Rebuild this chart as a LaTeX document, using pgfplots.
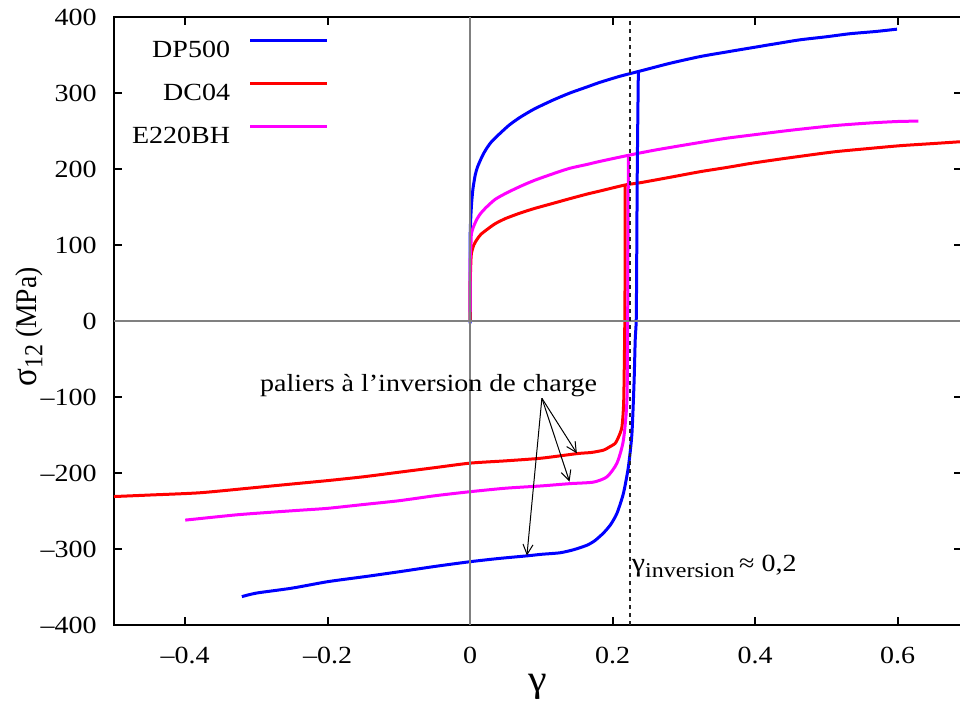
\documentclass[border=0pt]{standalone}
\usepackage{fontspec}
\setmainfont{Liberation Serif}
\usepackage{graphicx}
\usepackage{pgfplots}
\pgfplotsset{compat=1.18}
\usetikzlibrary{arrows.meta}

\definecolor{dpblue}{RGB}{0,0,255}
\definecolor{dcred}{RGB}{255,0,0}
\definecolor{ehmag}{RGB}{255,0,255}
\definecolor{zerogray}{RGB}{128,128,128}

% text set slightly flattened, as in the original gnuplot output
\newcommand{\sq}[1]{\scalebox{1}[0.88]{#1}}
\newcommand{\fs}{\fontsize{14}{16}\selectfont}

\begin{document}
\begin{tikzpicture}
\begin{axis}[
  scale only axis,
  width=423.9pt, height=304pt,
  xmin=-0.5, xmax=0.69,
  ymin=-400, ymax=400,
  xtick={-0.4,-0.2,0,0.2,0.4,0.6},
  xticklabels={\sq{–0.4},\sq{–0.2},\sq{0},\sq{0.2},\sq{0.4},\sq{0.6}},
  ytick={-400,-300,-200,-100,0,100,200,300,400},
  yticklabels={\sq{–400},\sq{–300},\sq{–200},\sq{–100},\sq{0},\sq{100},\sq{200},\sq{300},\sq{400}},
  tick align=inside,
  major tick length=4pt,
  every tick/.style={black, line width=0.9pt},
  axis line style={line width=1pt},
  tick label style={font=\fs},
  xticklabel style={anchor=north, inner sep=0pt, yshift=-11pt},
  yticklabel style={anchor=east, inner sep=0pt, xshift=-8.5pt},
  xlabel={\scalebox{1}[0.9]{\fontsize{21}{22}\selectfont γ}},
  every axis x label/.style={at={(axis description cs:0.5,0)}, anchor=center, yshift=-30.9pt},
  ylabel={\scalebox{0.92}[1]{{\fontsize{18}{18}\selectfont σ}\raisebox{-3pt}{\fontsize{13}{14}\selectfont 12}\fontsize{15}{16}\selectfont\ (MPa)}},
  every axis y label/.style={at={(axis description cs:-0.1,0.49)}, anchor=center, rotate=90},
  legend style={draw=none, fill=none, at={(rel axis cs:0.2528,0.967)}, anchor=north east,
    inner sep=0pt, outer sep=0pt, row sep=8.5pt, column sep=9.35pt, font=\fs,
    nodes={inner sep=0pt, text height=10pt, text depth=3pt}},
  legend plot pos=right,
  legend cell align=right,
  legend image code/.code={\draw[#1] (0pt,4.85pt) -- (38.3pt,4.85pt);},
  every axis plot/.append style={line width=1.5pt, smooth, tension=0.4},
]

% monotonic shear tests
\addplot[dpblue] coordinates {
(0,-3) (0,60) (0,115) (0.001,140) (0.0023,159) (0.004,175) (0.007,192) (0.01,202)
(0.014,211) (0.018,219) (0.023,227) (0.03,236) (0.042,247) (0.055,258) (0.07,268)
(0.09,279) (0.117,291) (0.14,300) (0.164,308) (0.182,314) (0.21,322) (0.239,329)
(0.28,339) (0.323,348) (0.36,354) (0.398,360) (0.43,365) (0.463,370) (0.5,374)
(0.533,378) (0.57,381) (0.599,384)};
\addlegendentry{\sq{DP500}}

\addplot[dcred] coordinates {
(0,0) (0,50) (0.001,80) (0.0017,89) (0.005,100) (0.01,108) (0.015,114) (0.023,120)
(0.035,128) (0.05,135) (0.07,142) (0.09,148) (0.117,155) (0.14,161) (0.164,167)
(0.182,171) (0.2175,179) (0.239,182) (0.28,189) (0.323,196.5) (0.36,202) (0.398,208)
(0.45,215) (0.51,222.5) (0.56,227) (0.604,230.7) (0.65,233.5) (0.69,236)};
\addlegendentry{\sq{DC04}}

\addplot[ehmag] coordinates {
(0,12) (0,80) (0.001,100) (0.0017,115) (0.005,125) (0.01,135) (0.015,142) (0.023,150)
(0.035,160) (0.05,168) (0.07,177) (0.09,185) (0.117,194) (0.14,201) (0.164,206)
(0.182,210) (0.222,218) (0.26,225) (0.323,235) (0.36,240.5) (0.398,245) (0.45,251)
(0.51,257) (0.56,260.5) (0.6,262.5) (0.629,263)};
\addlegendentry{\sq{E220BH}}

% reverse loading after the inversion
\addplot[dpblue, forget plot] coordinates {
(0.236,328) (0.2345,200) (0.2335,50) (0.233,0) (0.2316,-25) (0.230,-80) (0.227,-148)
(0.222,-192) (0.215,-227) (0.206,-253) (0.197,-268) (0.187,-279) (0.175,-289)
(0.164,-295) (0.145,-301) (0.126,-305) (0.1,-307) (0.08,-309) (0.04,-312.5)
(0,-316.7) (-0.05,-323) (-0.1,-330) (-0.145,-336) (-0.2,-343) (-0.25,-351.5)
(-0.3,-358) (-0.3205,-362.7)};

\addplot[dcred, forget plot] coordinates {
(0.2175,179) (0.2175,100) (0.217,0) (0.2155,-104) (0.213,-139) (0.2085,-152)
(0.2035,-161) (0.195,-166) (0.187,-170) (0.17,-173) (0.15,-174.5) (0.1,-180.5)
(0.05,-184) (0,-187) (-0.05,-193) (-0.1,-199) (-0.15,-205) (-0.2,-210)
(-0.239,-213.5) (-0.3,-219) (-0.379,-226) (-0.45,-229) (-0.5,-231)};

\addplot[ehmag, forget plot] coordinates {
(0.222,218) (0.2215,100) (0.221,0) (0.22,-104) (0.215,-157) (0.206,-187)
(0.192,-205) (0.173,-212) (0.14,-214) (0.1,-217) (0.05,-220) (0,-224.6)
(-0.05,-230) (-0.1,-236.5) (-0.15,-241.5) (-0.2,-246.5) (-0.239,-249)
(-0.3,-253) (-0.333,-255.5) (-0.4,-262)};

% zero axes and inversion strain
\draw[zerogray, line width=0.75pt] (axis cs:0,-400) -- (axis cs:0,400);
\draw[zerogray, line width=0.75pt] (axis cs:-0.5,0) -- (axis cs:0.69,0);
\draw[black!85, line width=0.9pt, dash pattern=on 2.2pt off 1.8pt] (axis cs:0.2246,-400) -- (axis cs:0.2246,400);

% annotations
\node[anchor=base, font=\fs, inner sep=0pt] at (axis cs:-0.0585,-93) {\sq{paliers à l’inversion de charge}};
\draw[line width=0.5pt, -{Straight Barb[length=5pt,width=5pt]}] (axis cs:0.1006,-101.7) -- (axis cs:0.1497,-174.1);
\draw[line width=0.5pt, -{Straight Barb[length=5pt,width=5pt]}] (axis cs:0.1006,-101.7) -- (axis cs:0.1394,-211.4);
\draw[line width=0.5pt, -{Straight Barb[length=5pt,width=5pt]}] (axis cs:0.1006,-101.7) -- (axis cs:0.0796,-308.6);
\node[anchor=base west, font=\fs, inner sep=0pt] at (axis cs:0.2265,-330) {\sq{{\fontsize{15}{16}\selectfont γ}\raisebox{-3pt}{\fontsize{12}{13}\selectfont inversion}\,≈ 0,2}};

\coordinate (SW) at (rel axis cs:0,0);
\end{axis}
\pgfresetboundingbox
\path ([shift={(-57pt,-39.5pt)}]SW) rectangle ++(480pt,352pt);
\end{tikzpicture}
\end{document}
